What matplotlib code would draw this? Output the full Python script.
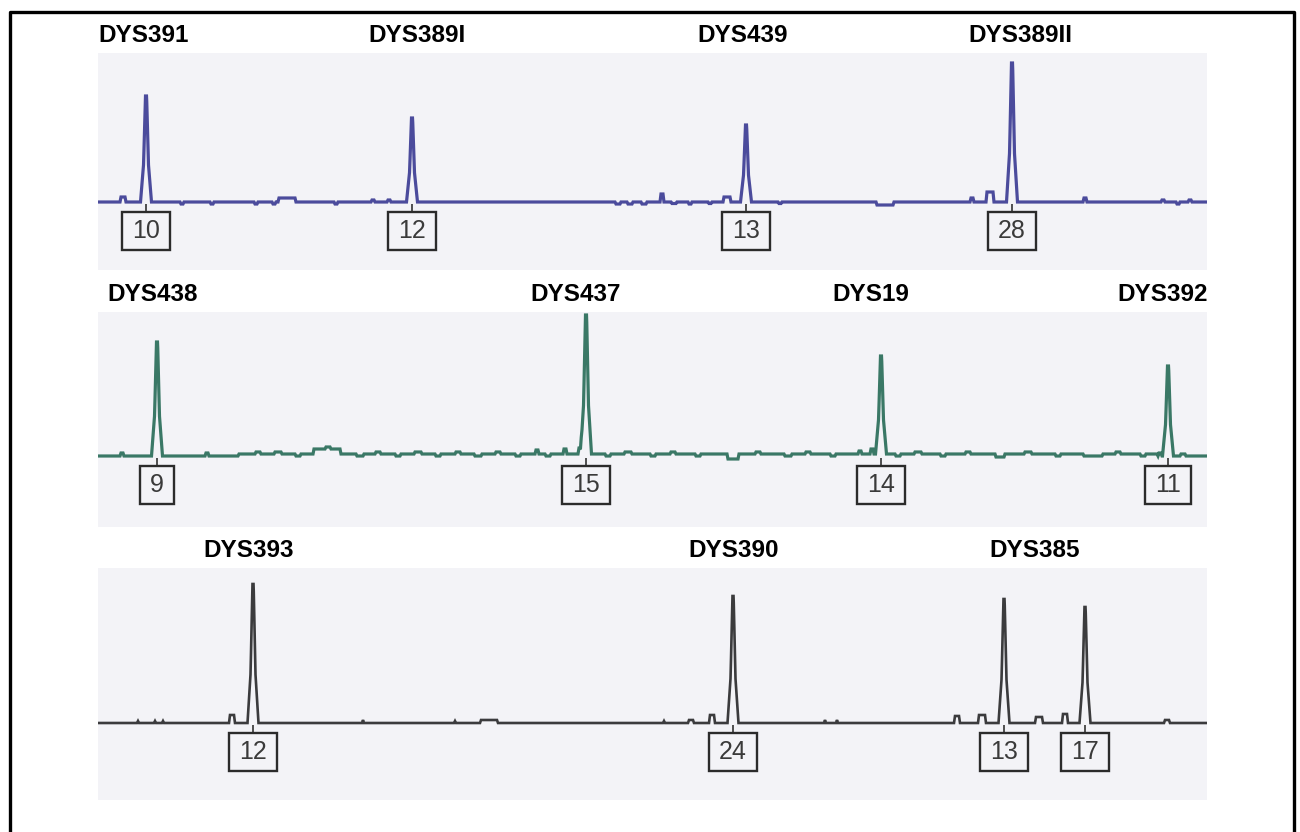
# Y-STR electropherogram panels (DYS loci) redrawn from a scanned figure

import numpy as np
import matplotlib.pyplot as plt
from matplotlib.lines import Line2D

# ---- data: loci, allele calls, peak position (scan units) and height (RFU) ----
loci_1 = ['DYS391', 'DYS389I', 'DYS439', 'DYS389II']
alleles_1 = ['10', '12', '13', '28']
peak_x_1 = [48, 314, 648, 914]
peak_h_1 = [1060, 840, 770, 1390]

loci_2 = ['DYS438', 'DYS437', 'DYS19', 'DYS392']
alleles_2 = ['9', '15', '14', '11']
peak_x_2 = [59, 488, 783, 1070]
peak_h_2 = [1140, 1390, 980, 900]

loci_3 = ['DYS393', 'DYS390', 'DYS385']
alleles_3 = ['12', '24', '13', '17']
peak_x_3 = [155, 635, 906, 987]
peak_h_3 = [1390, 1270, 1240, 1160]

# minor baseline features: (position, height, half width)
minor_1 = [(25, 50, 3), (84, -20, 2), (114, -20, 2), (158, -20, 2), (176, -20, 2),
           (189, 40, 9), (238, -20, 2), (275, 20, 2), (291, 20, 2), (520, -20, 3),
           (532, -20, 3), (546, -20, 3), (564, 80, 2), (576, -15, 3), (592, -20, 2),
           (612, -15, 2), (629, 50, 4), (682, -15, 2), (787, -30, 9), (874, 40, 2),
           (892, 100, 4), (987, 40, 2), (1065, 20, 2), (1080, -20, 2), (1092, 20, 2)]
minor_2 = [(24, 30, 2), (109, 30, 2), (600, 20, 460), (229, 50, 14), (160, 20, 3),
           (180, 20, 4), (200, -20, 3), (230, 20, 3), (262, -20, 4), (280, 20, 3),
           (300, -20, 3), (320, 20, 4), (340, -20, 3), (360, 20, 3), (380, -20, 4),
           (400, 20, 3), (420, -20, 3), (439, 40, 2), (450, -20, 3), (467, 50, 2),
           (482, 60, 2), (510, -20, 3), (530, 20, 4), (555, -20, 3), (575, 20, 3),
           (600, -20, 3), (635, -50, 6), (660, 20, 3), (690, -20, 4), (710, 20, 3),
           (735, -20, 3), (762, 30, 2), (774, 50, 2), (800, -20, 3), (820, 20, 4),
           (845, -20, 3), (870, 20, 3), (902, -30, 5), (930, 20, 4), (960, -20, 3),
           (995, -20, 10), (1020, 20, 3), (1045, -20, 3), (1062, 30, 2), (1085, 20, 3)]
minor_3 = [(40, 20, 1), (57, 20, 1), (65, 20, 1), (134, 80, 3), (265, 30, 1),
           (357, 20, 1), (391, 30, 9), (566, 20, 1), (593, 30, 3), (614, 80, 3),
           (727, 30, 1), (739, 30, 1), (859, 70, 3), (884, 80, 4), (941, 60, 4),
           (967, 90, 3), (1069, 30, 3)]

# ---- layout (pixels on a 1300 x 832 canvas) ----
W, H = 1300, 832
panels = [  # left, top, right, bottom, baseline
    (98, 53, 1207, 270, 202),
    (98, 312, 1207, 527, 456),
    (98, 568, 1207, 800, 723),
]
title_left = [[98, 368, 697, 968], [107, 530, 832, 1117], [203, 688, 989]]
title_base = [42, 301, 557]
trace_colors = ['#4b4b9c', '#3a7866', '#3b3b3d']
trace_lw = [2.3, 2.3, 1.9]
bg = '#f3f3f7'
px_rfu = 10  # RFU per pixel

fig = plt.figure(figsize=(13, 8.32), dpi=100)
fig.patch.set_facecolor('white')

# frame around the figure (open at the bottom)
fx = [10 / W, 10 / W, 1294 / W, 1294 / W]
fy = [0, 1 - 12 / H, 1 - 12 / H, 0]
fig.add_artist(Line2D(fx, fy, transform=fig.transFigure, color='black', lw=2.4))

def trace(grid, px, ph, minor):
    y = np.zeros_like(grid)
    for x0, h, w in minor:
        y += np.interp(grid, [x0 - w, x0 - w + 1, x0 + w - 1, x0 + w], [0, h, h, 0])
    for c, h in zip(px, ph):
        y += np.interp(grid, c + np.array([-5.5, -2.4, -0.6, 0.6, 2.4, 5.5]),
                       h * np.array([0, 0.36, 1, 1, 0.36, 0]))
    return y

sets = [(loci_1, alleles_1, peak_x_1, peak_h_1, minor_1),
        (loci_2, alleles_2, peak_x_2, peak_h_2, minor_2),
        (loci_3, alleles_3, peak_x_3, peak_h_3, minor_3)]

for i, (loci, alleles, px, ph, minor) in enumerate(sets):
    l, t, r, b, base = panels[i]
    ax = fig.add_axes([l / W, 1 - b / H, (r - l) / W, (b - t) / H])
    ax.set_facecolor(bg)
    ax.set_xlim(0, r - l)
    ax.set_ylim(-(b - base) * px_rfu, (base - t) * px_rfu)
    for s in ax.spines.values():
        s.set_visible(False)
    ax.set_xticks([])
    ax.set_yticks([])

    grid = np.arange(0, r - l + 0.01, 0.25)
    ax.plot(grid, trace(grid, px, ph, minor), color=trace_colors[i],
            lw=trace_lw[i], solid_joinstyle='miter')

    # allele call boxes with a small tick from the baseline
    for c, a in zip(px, alleles):
        ax.vlines(c, -95, -15, color='#333333', lw=1.2)
        ax.annotate(a, xy=(c, 0), xytext=(0, -29), textcoords='offset pixels',
                    ha='center', va='center', fontsize=18, color='#3a3a3a',
                    family='Liberation Sans',
                    bbox=dict(boxstyle='square,pad=0.4', fc='none', ec='#2b2b2b',
                              lw=1.7, mutation_aspect=0.7))

    for name, x0 in zip(loci, title_left[i]):
        fig.text(x0 / W, 1 - title_base[i] / H, name, ha='left', va='baseline',
                 fontsize=17.5, fontweight='bold', family='Liberation Sans')

fig.savefig('out.png', dpi=100)
